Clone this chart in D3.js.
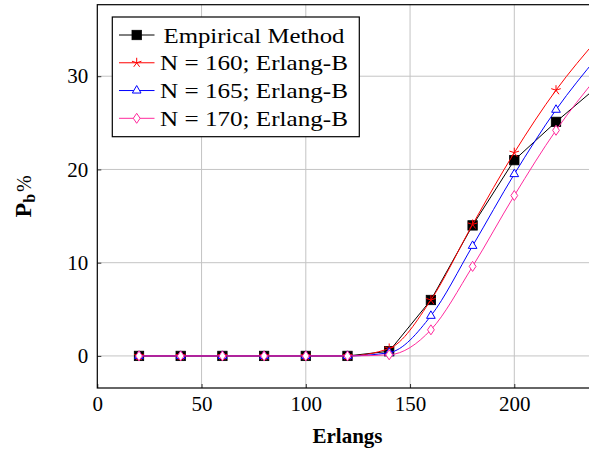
<!DOCTYPE html>
<html>
<head>
<meta charset="utf-8">
<script src="https://cdn.jsdelivr.net/npm/d3@7"></script>
<style>
  body { margin: 0; background: #fff; }
  svg { display: block; }
</style>
</head>
<body>
<div id="chart"></div>
<script>
// data (traffic in Erlangs, blocking probability in %)
const erlangs = [20, 40, 60, 80, 100, 120, 140, 160, 180, 200, 220, 240];
const empirical = [0, 0, 0, 0, 0, 0, 0.5, 6.0, 14.0, 21.0, 25.1, 28.9];
const erlangB160 = [0, 0, 0, 0, 0, 0, 0.8, 6.0, 14.1, 21.8, 28.5, 34.0];
const erlangB165 = [0, 0, 0, 0, 0, 0, 0.35, 4.3, 11.8, 19.5, 26.4, 32.1];
const erlangB170 = [0, 0, 0, 0, 0, 0, 0.12, 2.8, 9.6, 17.2, 24.2, 30.0];
const xTicks = [0, 50, 100, 150, 200];
const yTicks = [0, 10, 20, 30];
const legendLabels = ["Empirical Method", "N = 160; Erlang-B", "N = 165; Erlang-B", "N = 170; Erlang-B"];

const PINK = "#ff2a9d";
const series = [
  { name: legendLabels[0], values: empirical, color: "#000", mark: "square" },
  { name: legendLabels[1], values: erlangB160, color: "#ff0000", mark: "star" },
  { name: legendLabels[2], values: erlangB165, color: "#0000ff", mark: "triangle" },
  { name: legendLabels[3], values: erlangB170, color: PINK, mark: "diamond" }
];
// marks are only drawn on the first 11 points (20..220)
const markCount = 11;

// set the dimensions and margins of the graph
const W = 589, H = 453;
const plot = { left: 97.3, top: 4.7, right: 597.7, bottom: 388 };
const FONT = "Liberation Serif";

const svg = d3.select("#chart")
  .append("svg")
  .attr("width", W)
  .attr("height", H)
  .attr("viewBox", `0 0 ${W} ${H}`)
  .attr("font-family", FONT);

const x = d3.scaleLinear().domain([0, 240]).range([plot.left, plot.right]);
const y = d3.scaleLinear().domain([-3.44, 37.67]).range([plot.bottom, plot.top]);

// grid
svg.append("g")
  .selectAll("line.vgrid")
  .data(xTicks.filter(d => d > 0))
  .enter().append("line")
  .attr("x1", d => x(d)).attr("x2", d => x(d))
  .attr("y1", plot.top).attr("y2", plot.bottom)
  .attr("stroke", "#c4c4c4").attr("stroke-width", 1);

svg.append("g")
  .selectAll("line.hgrid")
  .data(yTicks)
  .enter().append("line")
  .attr("x1", plot.left).attr("x2", plot.right)
  .attr("y1", d => y(d)).attr("y2", d => y(d))
  .attr("stroke", "#c4c4c4").attr("stroke-width", 1);

// axes (inward ticks, labels outside)
const xAxis = svg.append("g")
  .attr("transform", `translate(0, ${plot.bottom})`)
  .call(d3.axisBottom(x).tickValues(xTicks).tickSize(-4).tickPadding(8).tickFormat(d3.format("d")));
const yAxis = svg.append("g")
  .attr("transform", `translate(${plot.left}, 0)`)
  .call(d3.axisLeft(y).tickValues(yTicks).tickSize(-4).tickPadding(9).tickFormat(d3.format("d")));

[xAxis, yAxis].forEach(a => {
  a.attr("font-family", FONT).attr("font-size", 21);
  a.select(".domain").remove();
  a.selectAll(".tick line").attr("stroke", "#000").attr("stroke-width", 0.8);
  a.selectAll(".tick text").attr("fill", "#000");
});

// frame
svg.append("rect")
  .attr("x", plot.left).attr("y", plot.top)
  .attr("width", plot.right - plot.left).attr("height", plot.bottom - plot.top)
  .attr("fill", "none").attr("stroke", "#000").attr("stroke-width", 1.2);

// clip for lines
svg.append("clipPath").attr("id", "plot-clip")
  .append("rect")
  .attr("x", plot.left).attr("y", plot.top)
  .attr("width", plot.right - plot.left).attr("height", plot.bottom - plot.top);

// marker drawing
const drawMark = (g, type, color, cx, cy) => {
  if (type === "square") {
    g.append("rect")
      .attr("x", cx - 4.7).attr("y", cy - 4.7)
      .attr("width", 9.4).attr("height", 9.4)
      .attr("fill", "#000").attr("stroke", "#000").attr("stroke-width", 0.8);
  } else if (type === "star") {
    const r = 5;
    let p = "";
    for (let k = 0; k < 5; k++) {
      const a = -Math.PI / 2 + k * 2 * Math.PI / 5;
      p += `M${cx},${cy}L${cx + r * Math.cos(a)},${cy + r * Math.sin(a)}`;
    }
    g.append("path").attr("d", p)
      .attr("fill", "none").attr("stroke", color).attr("stroke-width", 1);
  } else if (type === "triangle") {
    const r = 5;
    const pts = [0, 1, 2].map(k => {
      const a = -Math.PI / 2 + k * 2 * Math.PI / 3;
      return [cx + r * Math.cos(a), cy + r * Math.sin(a)];
    });
    g.append("path").attr("d", "M" + pts.map(p => p.join(",")).join("L") + "Z")
      .attr("fill", "#fff").attr("stroke", color).attr("stroke-width", 1);
  } else if (type === "diamond") {
    const rx = 3.4, ry = 5;
    g.append("path")
      .attr("d", `M${cx},${cy - ry}L${cx + rx},${cy}L${cx},${cy + ry}L${cx - rx},${cy}Z`)
      .attr("fill", "#fff").attr("stroke", color).attr("stroke-width", 1);
  }
};

// series lines and marks
series.forEach(s => {
  const pts = erlangs.map((e, i) => ({ x: e, v: s.values[i] }));
  const line = d3.line()
    .x(d => x(d.x))
    .y(d => y(d.v))
    .curve(s.mark === "square" ? d3.curveLinear : d3.curveMonotoneX);
  const g = svg.append("g");
  g.append("path")
    .datum(pts)
    .attr("clip-path", "url(#plot-clip)")
    .attr("fill", "none")
    .attr("stroke", s.color)
    .attr("stroke-width", 1)
    .attr("d", line);
  pts.slice(0, markCount).forEach(d => drawMark(g, s.mark, s.color, x(d.x), y(d.v)));
});

// legend
const lg = svg.append("g");
const legendBox = { x: 112.3, y: 17, w: 247, h: 119.7 };
lg.append("rect")
  .attr("x", legendBox.x).attr("y", legendBox.y)
  .attr("width", legendBox.w).attr("height", legendBox.h)
  .attr("fill", "#fff").attr("stroke", "#000").attr("stroke-width", 1.2);

const rowY = d3.scalePoint().domain(legendLabels).range([35, 118.3]);
series.forEach(s => {
  const cy = rowY(s.name);
  lg.append("line")
    .attr("x1", 119).attr("x2", 154.5)
    .attr("y1", cy).attr("y2", cy)
    .attr("stroke", s.color).attr("stroke-width", 1);
  drawMark(lg, s.mark, s.color, 136.7, cy);
  lg.append("text")
    .attr("x", s.mark === "square" ? 163.5 : 160)
    .attr("y", cy)
    .attr("dy", "0.35em")
    .attr("font-family", FONT)
    .attr("font-size", 22)
    .attr("textLength", s.mark === "square" ? 181 : 188)
    .attr("lengthAdjust", "spacingAndGlyphs")
    .attr("fill", "#000")
    .text(s.name);
});

// axis titles
svg.append("text")
  .attr("x", (plot.left + plot.right) / 2)
  .attr("y", 443)
  .attr("text-anchor", "middle")
  .attr("font-family", FONT)
  .attr("font-size", 21)
  .attr("font-weight", "bold")
  .attr("fill", "#000")
  .text("Erlangs");

const yl = svg.append("text")
  .attr("transform", `translate(31, ${(plot.top + plot.bottom) / 2}) rotate(-90)`)
  .attr("text-anchor", "middle")
  .attr("font-family", FONT)
  .attr("font-size", 21)
  .attr("fill", "#000");
yl.append("tspan").attr("font-weight", "bold").attr("font-size", 24).text("P");
yl.append("tspan").attr("font-weight", "bold").attr("font-size", 16).attr("dy", 4).text("b");
yl.append("tspan").attr("dy", -4).attr("dx", 2).attr("font-size", 20).text("%");
</script>
</body>
</html>
